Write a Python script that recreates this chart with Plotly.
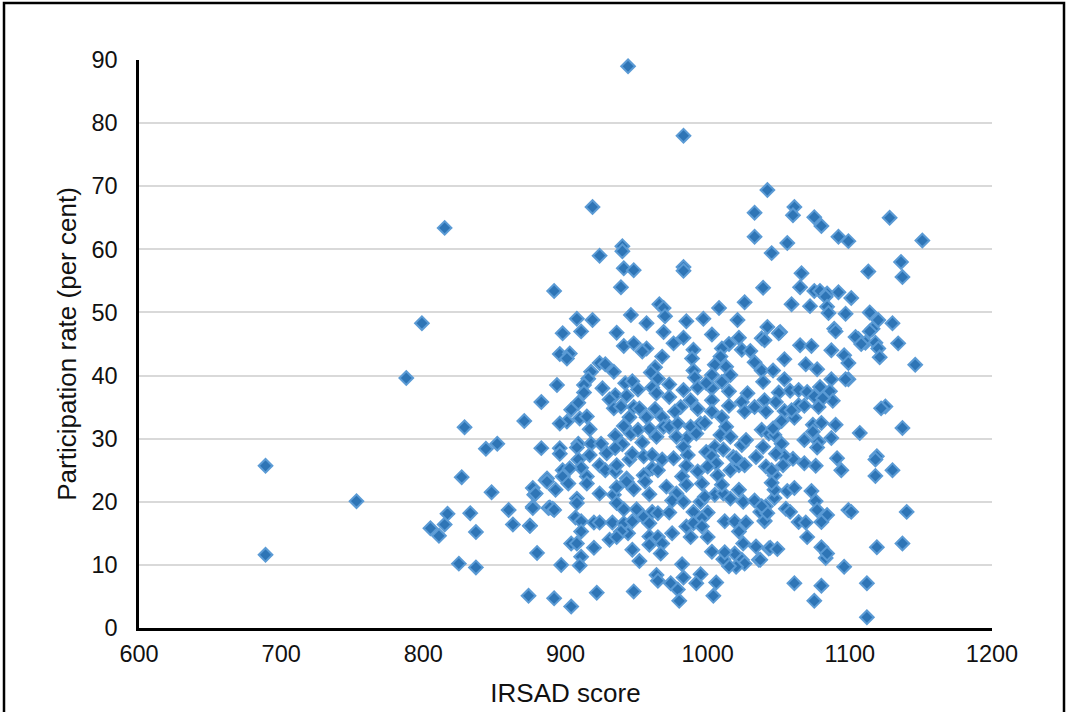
import plotly.graph_objects as go

points = [
(944,89.0),(983,78.0),(1042,69.4),(1061,66.7),(919,66.7),(1060,65.4),(1033,65.8),(1075,65.1),(1080,63.7),(1128,65),(815,63.4),(1033,62),(1092,62),(1099,61.3),(1056,61),(1151,61.4),(940,60.5),(940,59.7),(924,59),(1045,59.4),(1136,58),(941,57),(983,57.2),(983,56.6),(948,56.7),(1066,56.2),(1113,56.5),(1137,55.6),(939,54),(892,53.4),(1039,53.9),(1065,54),(1075,53.4),(1079,53.4),(1084,53),(1092,53.2),(1083,52.5),(1101,52.3),(1026,51.6),(1059,51.3),(966,51.3),(969,50.7),(1008,50.7),(1072,51),(1084,50.9),(1085,49.9),(1114,50),(946,49.6),(908,49),(919,48.8),(970,49.4),(985,48.6),(997,49),(1021,48.8),(1097,49.8),(1120,48.8),(1130,48.3),(799,48.3),(957,48.3),(1089,47.4),(1116,47.4),(1042,47.7),(1051,46.9),(1106,45.8),(1111,45.2),
(788,39.6),(689,25.7),(689,11.6),(753,20.1),(829,31.8),(827,23.9),(844,28.4),(852,29.2),(848,21.5),(805,15.8),(811,14.6),(815,16.4),(817,18.1),(825,10.2),(833,18.2),(837,15.2),(837,9.6),(860,18.7),(863,16.4),(875,16.2),(871,32.8),(877,22.2),(878,21.1),(886,23.4),(874,5.1),(888,19),(891,18.9),(877,19.2),
(898,46.7),(911,47.0),(936,46.8),(969,46.9),(983,46.0),(1003,46.5),(1022,46.0),(1038,45.9),(941,44.7),(948,45.1),(957,44.3),(954,43.8),(976,45.1),(990,44.1),(989,42.7),(1015,45.0),(1010,44.3),(1024,44.1),(1030,43.9),(1040,45.6),(896,43.4),(903,43.5),(901,42.7),(968,43.0),(1009,43.0),(1005,41.7),(1013,41.4),(1033,42.1),(1038,40.8),(1039,39.0),
(924,42.0),(928,41.8),(934,40.6),(918,40.6),(916,39.5),(913,38.5),(913,37.3),(926,38.0),(963,41.3),(960,40.5),(965,39.5),(973,38.6),(961,38.1),(964,37.2),(973,36.6),(990,40.8),(991,39.7),(993,38.1),(983,37.7),(988,36.1),(1003,40.1),(1016,40.1),(1010,39.0),(1003,38.0),(1015,37.5),(1003,36.1),(999,38.8),
(942,38.8),(947,39.1),(951,37.8),(894,38.5),(935,36.9),(943,36.8),(931,36.2),(934,34.8),(939,35.1),(883,35.8),(909,35.7),(904,34.6),(910,33.2),(915,33.5),(901,32.7),(896,32.4),(917,31.5),
(948,35.0),(952,34.8),(945,33.4),(957,33.4),(963,34.7),(968,33.4),(981,35.0),(993,34.7),(977,34.3),(1003,34.3),(1015,35.2),(1010,33.4),(1024,35.8),(1028,37.2),(1026,34.3),(1033,35.0),(1040,36.1),(1041,34.3),
(941,32.0),(935,30.5),(946,30.8),(951,31.4),(954,29.4),(959,31.6),(964,30.3),(969,31.9),(973,31.9),(979,32.4),(988,31.9),(995,32.4),(998,32.5),(992,30.8),(985,30.0),(978,30.3),(1013,31.9),(1009,30.6),(1016,30.3),(1038,31.4),(1043,30.8),
(883,28.5),(896,28.5),(896,27.6),(909,29.2),(908,28.6),(918,29.2),(925,29.2),(929,27.7),(917,27.4),(909,26.7),(911,25.4),(898,25.0),(903,25.3),(898,24.0),(887,23.7),(915,24.0),(924,25.8),(928,25.0),(935,24.8),(936,25.8),(940,29.1),(935,28.5),(945,26.7),(947,27.6),(955,27.2),(961,27.4),(968,26.7),(976,26.9),(983,28.7),(986,27.4),(985,25.7),(993,24.8),(999,27.9),(1005,28.7),(1003,27.2),(1011,28.3),(1006,26.1),(1000,25.6),(1016,25.0),(1018,27.1),(1024,29.0),(1027,29.8),(1022,25.8),(1026,25.8),(1034,27.1),(1039,28.7),(1041,25.6),(961,25.3),(955,24.2),(965,25.0),(943,23.7),(982,24.0),(1007,24.2),(1020,26.9),
(879,21.3),(877,19.0),(887,23.2),(893,21.9),(902,22.9),(915,22.9),(924,21.3),(908,20.5),(908,19.8),(889,19.1),(892,18.7),(907,17.5),(911,16.9),(920,16.7),(924,16.7),(911,15.3),(875,16.2),
(934,21.1),(936,22.3),(943,23.2),(948,22.0),(956,23.2),(959,21.2),(936,19.8),(941,18.8),(950,18.8),(955,17.6),(961,18.4),(965,18.2),(959,16.6),(973,18.3),(933,16.7),(941,16.6),(947,16.9),(944,15.0),(939,15.3),(931,14.0),(936,14.4),
(971,22.4),(978,21.3),(975,20.2),(985,22.7),(983,20.0),(990,18.4),(995,20.0),(1000,18.3),(996,17.4),(985,16.1),(990,16.6),(996,16.1),(996,22.9),(1005,21.1),(998,20.8),(1011,21.3),(1010,22.7),(1022,21.9),(1016,20.5),(1025,20.0),(1033,20.2),(1037,18.4),(1041,19.3),(1040,16.9),(1012,16.9),(1019,16.9),(1027,16.7),(1022,15.3),(1025,13.4),(1034,12.9),(1043,12.6),(1036,10.8),(1024,10.8),(1019,11.8),(1026,10.2),(1020,9.7),(1015,9.8),(1011,10.9),(1012,12.0),(1003,12.1),
(975,15.0),(988,14.4),(1000,14.4),(959,14.5),(959,13.2),(965,14.4),(968,13.4),(967,11.8),(947,12.4),(952,10.6),(904,13.4),(908,13.4),(920,12.7),(880,11.9),(911,11.3),(910,9.9),(897,10.0),
(982,10.1),(964,8.4),(965,7.5),(983,8.0),(995,8.5),(992,7.1),(974,7.1),(979,6.1),(1006,7.2),(1004,5.1),(980,4.3),(948,5.8),(922,5.6),(892,4.7),(904,3.4),
(1050,46.7),(1065,44.8),(1073,44.7),(1087,44.0),(1104,46.1),(1108,45.0),(1118,45.2),(1120,44.3),(1121,42.9),(1134,45.1),(1090,47.0),(1114,47.0),(1054,42.6),(1069,41.8),(1077,41.0),(1096,43.2),(1099,42.0),(1146,41.7),(1046,40.8),(1054,39.4),(1087,39.4),(1099,39.4),(1097,39.4),
(1050,37.3),(1058,37.6),(1064,37.7),(1070,37.4),(1079,38.2),(1075,36.7),(1086,37.5),(1088,36),(1081,36.4),(1078,35),(1048,35.8),(1054,34.4),(1064,35.3),(1068,35.2),(1061,33.3),(1052,32.8),(1059,34.5),(1125,35.1),(1122,34.8),
(1074,32.2),(1080,32.5),(1090,32.2),(1137,31.7),(1107,30.9),(1074,31.1),(1068,29.8),(1078,29.5),(1087,30.1),(1077,28.6),(1047,30.6),(1052,29.2),(1046,31.6),
(1119,27.2),(1118,26.7),(1091,26.9),(1094,25.0),(1130,25.0),(1118,24.1),(1060,26.8),(1054,27.2),(1068,26.1),(1076,25.7),(1053,25.8),(1048,27.6),(1047,24.2),(1045,25),
(1061,7.1),(1075,4.3),(1080,6.7),(1112,1.7),(1112,7.1),(1096,9.7),(1083,11.1),(1080,12.8),(1084,11.8),(1119,12.8),(1137,13.4),(1140,18.4),(1099,18.7),(1101,18.4),(1084,17.9),(1080,16.8),(1064,16.8),(1069,16.7),(1070,14.4),(1076,20.1),(1073,21.7),(1056,21.7),(1055,18.9),(1058,18.4),(1077,18.7),(1044,12.7),(1049,12.5),(1037,10.8),(1040,17),(1042,18.2),(1038,19.3),(1047,20.6),(1047,21.9),(1045,23),(1061,22.2),
]
irsad = [p[0] for p in points]
participation = [p[1] for p in points]

x_title = "IRSAD score"
y_title = "Participation rate (per cent)"
tick_font = dict(family="Liberation Sans, Arial, sans-serif", size=23.5, color="#111111")
title_font = dict(family="Liberation Sans, Arial, sans-serif", size=26, color="#111111")

fig = go.Figure(go.Scatter(
    x=irsad, y=participation, mode="markers",
    marker=dict(symbol="diamond", size=10.5, color="#2E75B6",
                line=dict(color="#5B9BD5", width=2)),
    cliponaxis=False,
))

L, R, T, B = 139, 992, 60, 628
W, H = 1067, 722
def px(v): return (v - L) / (R - L)
def py(v): return (B - v) / (B - T)

fig.update_layout(
    width=W, height=H, autosize=False,
    margin=dict(l=L, r=W - R, t=T, b=H - B),
    paper_bgcolor="white", plot_bgcolor="white",
    showlegend=False, font=tick_font,
    xaxis=dict(range=[600, 1200], dtick=100, showgrid=False, zeroline=False,
               showline=True, linecolor="#000000", linewidth=2.5, ticks="",
               tickfont=tick_font, ticklabelstandoff=3, automargin=True,
               title=dict(text=x_title, font=title_font, standoff=18)),
    yaxis=dict(range=[0, 90], dtick=10, showgrid=True, gridcolor="#D9D9D9",
               gridwidth=1.5, zeroline=False, showline=True, linecolor="#000000",
               linewidth=2.5, ticks="", tickfont=tick_font, ticklabelstandoff=14,
               automargin=True,
               title=dict(text=y_title, font=title_font, standoff=8)),
    shapes=[dict(type="path", xref="paper", yref="paper",
                 path=f"M {px(4)} {py(H)} L {px(4)} {py(3)} L {px(1064)} {py(3)} L {px(1064)} {py(H)}",
                 line=dict(color="#000000", width=2.5), layer="above")],
)
fig.write_html("out.html", config={"displayModeBar": False},
               post_script="document.body.style.margin='0';document.documentElement.style.overflow='hidden';")
